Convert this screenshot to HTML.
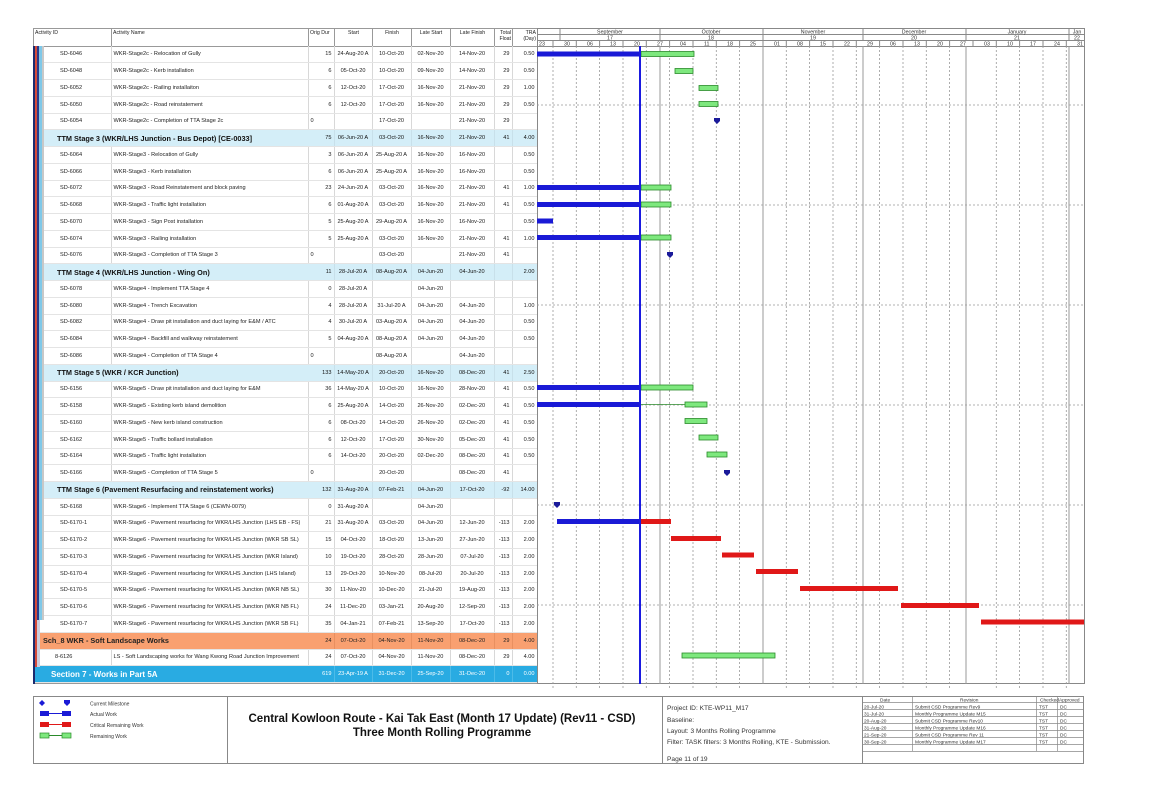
<!DOCTYPE html>
<html><head><meta charset="utf-8"><style>
body{margin:0;width:1149px;height:812px;background:#fff;position:relative;overflow:hidden;font-family:"Liberation Sans",sans-serif}
.a{position:absolute}
table{border-collapse:collapse;table-layout:fixed;font-size:5.6px;color:#222}
#t td{height:16.76px;padding:0 2px;border-right:1px solid #d8d8d8;border-bottom:1px solid #e4e4e4;white-space:nowrap;overflow:hidden;box-sizing:border-box}
#t td.r{text-align:right}
#t td.c{text-align:center}
#t tr.s td{background:#d4eef8;font-weight:bold;font-size:7.3px;color:#111;border-right-color:#d4eef8}
#t tr.s td.r,#t tr.s td.c{font-weight:normal;font-size:5.6px;border-right:1px solid #c8e0ea}
#t tr.o td{background:#f9a070;font-weight:bold;font-size:7.3px;border-right-color:#f9a070}
#t tr.o td.r,#t tr.o td.c{font-weight:normal;font-size:5.6px;border-right:1px solid #e89060}
#t tr.b td{background:#29abe2;color:#fff;font-weight:bold;font-size:8px;border-right-color:#29abe2}
#t tr.b td.r,#t tr.b td.c{font-weight:normal;font-size:5.6px;border-right:1px solid #4cbbe8}
.id{padding-left:27px!important}
#h td{height:18px;border:1px solid #999;font-size:5.2px;vertical-align:top;padding:1px;box-sizing:border-box}
.st{position:absolute;z-index:2}
</style></head><body>
<!-- header of table -->
<table id="h" class="a" style="left:33px;top:28px;width:504px">
<colgroup><col style="width:78px"><col style="width:197px"><col style="width:26px"><col style="width:38px"><col style="width:39px"><col style="width:39px"><col style="width:44px"><col style="width:18px"><col style="width:25px"></colgroup>
<tr><td>Activity ID</td><td>Activity Name</td><td>Orig Dur</td><td style="text-align:center">Start</td><td style="text-align:center">Finish</td><td style="text-align:center">Late Start</td><td style="text-align:center">Late Finish</td><td style="text-align:right">Total Float</td><td style="text-align:right">TRA (Day)</td></tr>
</table>

<table id="t" class="a" style="left:33px;top:46px;width:504px">
<colgroup><col style="width:78px"><col style="width:197px"><col style="width:26px"><col style="width:38px"><col style="width:39px"><col style="width:39px"><col style="width:44px"><col style="width:18px"><col style="width:25px"></colgroup>
<tr><td class="id">SD-6046</td><td>WKR-Stage2c - Relocation of Gully</td><td class="r">15</td><td class="c">24-Aug-20 A</td><td class="c">10-Oct-20</td><td class="c">02-Nov-20</td><td class="c">14-Nov-20</td><td class="r">29</td><td class="r">0.50</td></tr>
<tr><td class="id">SD-6048</td><td>WKR-Stage2c - Kerb installation</td><td class="r">6</td><td class="c">05-Oct-20</td><td class="c">10-Oct-20</td><td class="c">09-Nov-20</td><td class="c">14-Nov-20</td><td class="r">29</td><td class="r">0.50</td></tr>
<tr><td class="id">SD-6052</td><td>WKR-Stage2c - Railing installaiton</td><td class="r">6</td><td class="c">12-Oct-20</td><td class="c">17-Oct-20</td><td class="c">16-Nov-20</td><td class="c">21-Nov-20</td><td class="r">29</td><td class="r">1.00</td></tr>
<tr><td class="id">SD-6050</td><td>WKR-Stage2c - Road reinstatement</td><td class="r">6</td><td class="c">12-Oct-20</td><td class="c">17-Oct-20</td><td class="c">16-Nov-20</td><td class="c">21-Nov-20</td><td class="r">29</td><td class="r">0.50</td></tr>
<tr><td class="id">SD-6054</td><td>WKR-Stage2c - Completion of TTA Stage 2c</td><td>0</td><td class="c"></td><td class="c">17-Oct-20</td><td class="c"></td><td class="c">21-Nov-20</td><td class="r">29</td><td class="r"></td></tr>
<tr class="s"><td colspan="2" style="padding-left:24px">TTM Stage 3 (WKR/LHS Junction - Bus Depot) [CE-0033]</td><td class="r">75</td><td class="c">06-Jun-20 A</td><td class="c">03-Oct-20</td><td class="c">16-Nov-20</td><td class="c">21-Nov-20</td><td class="r">41</td><td class="r">4.00</td></tr>
<tr><td class="id">SD-6064</td><td>WKR-Stage3 - Relocation of Gully</td><td class="r">3</td><td class="c">06-Jun-20 A</td><td class="c">25-Aug-20 A</td><td class="c">16-Nov-20</td><td class="c">16-Nov-20</td><td class="r"></td><td class="r">0.50</td></tr>
<tr><td class="id">SD-6066</td><td>WKR-Stage3 - Kerb installation</td><td class="r">6</td><td class="c">06-Jun-20 A</td><td class="c">25-Aug-20 A</td><td class="c">16-Nov-20</td><td class="c">16-Nov-20</td><td class="r"></td><td class="r">0.50</td></tr>
<tr><td class="id">SD-6072</td><td>WKR-Stage3 - Road Reinstatement and block paving</td><td class="r">23</td><td class="c">24-Jun-20 A</td><td class="c">03-Oct-20</td><td class="c">16-Nov-20</td><td class="c">21-Nov-20</td><td class="r">41</td><td class="r">1.00</td></tr>
<tr><td class="id">SD-6068</td><td>WKR-Stage3 - Traffic light installation</td><td class="r">6</td><td class="c">01-Aug-20 A</td><td class="c">03-Oct-20</td><td class="c">16-Nov-20</td><td class="c">21-Nov-20</td><td class="r">41</td><td class="r">0.50</td></tr>
<tr><td class="id">SD-6070</td><td>WKR-Stage3 - Sign Post installation</td><td class="r">5</td><td class="c">25-Aug-20 A</td><td class="c">29-Aug-20 A</td><td class="c">16-Nov-20</td><td class="c">16-Nov-20</td><td class="r"></td><td class="r">0.50</td></tr>
<tr><td class="id">SD-6074</td><td>WKR-Stage3 - Railing installation</td><td class="r">5</td><td class="c">25-Aug-20 A</td><td class="c">03-Oct-20</td><td class="c">16-Nov-20</td><td class="c">21-Nov-20</td><td class="r">41</td><td class="r">1.00</td></tr>
<tr><td class="id">SD-6076</td><td>WKR-Stage3 - Completion of TTA Stage 3</td><td>0</td><td class="c"></td><td class="c">03-Oct-20</td><td class="c"></td><td class="c">21-Nov-20</td><td class="r">41</td><td class="r"></td></tr>
<tr class="s"><td colspan="2" style="padding-left:24px">TTM Stage 4 (WKR/LHS Junction - Wing On)</td><td class="r">11</td><td class="c">28-Jul-20 A</td><td class="c">08-Aug-20 A</td><td class="c">04-Jun-20</td><td class="c">04-Jun-20</td><td class="r"></td><td class="r">2.00</td></tr>
<tr><td class="id">SD-6078</td><td>WKR-Stage4 - Implement TTA Stage 4</td><td class="r">0</td><td class="c">28-Jul-20 A</td><td class="c"></td><td class="c">04-Jun-20</td><td class="c"></td><td class="r"></td><td class="r"></td></tr>
<tr><td class="id">SD-6080</td><td>WKR-Stage4 - Trench Excavation</td><td class="r">4</td><td class="c">28-Jul-20 A</td><td class="c">31-Jul-20 A</td><td class="c">04-Jun-20</td><td class="c">04-Jun-20</td><td class="r"></td><td class="r">1.00</td></tr>
<tr><td class="id">SD-6082</td><td>WKR-Stage4 - Draw pit installation and duct laying for E&amp;M / ATC</td><td class="r">4</td><td class="c">30-Jul-20 A</td><td class="c">03-Aug-20 A</td><td class="c">04-Jun-20</td><td class="c">04-Jun-20</td><td class="r"></td><td class="r">0.50</td></tr>
<tr><td class="id">SD-6084</td><td>WKR-Stage4 - Backfill and walkway reinstatement</td><td class="r">5</td><td class="c">04-Aug-20 A</td><td class="c">08-Aug-20 A</td><td class="c">04-Jun-20</td><td class="c">04-Jun-20</td><td class="r"></td><td class="r">0.50</td></tr>
<tr><td class="id">SD-6086</td><td>WKR-Stage4 - Completion of TTA Stage 4</td><td>0</td><td class="c"></td><td class="c">08-Aug-20 A</td><td class="c"></td><td class="c">04-Jun-20</td><td class="r"></td><td class="r"></td></tr>
<tr class="s"><td colspan="2" style="padding-left:24px">TTM Stage 5 (WKR / KCR Junction)</td><td class="r">133</td><td class="c">14-May-20 A</td><td class="c">20-Oct-20</td><td class="c">16-Nov-20</td><td class="c">08-Dec-20</td><td class="r">41</td><td class="r">2.50</td></tr>
<tr><td class="id">SD-6156</td><td>WKR-Stage5 - Draw pit installation and duct laying for E&amp;M</td><td class="r">36</td><td class="c">14-May-20 A</td><td class="c">10-Oct-20</td><td class="c">16-Nov-20</td><td class="c">28-Nov-20</td><td class="r">41</td><td class="r">0.50</td></tr>
<tr><td class="id">SD-6158</td><td>WKR-Stage5 - Existing kerb island demolition</td><td class="r">6</td><td class="c">25-Aug-20 A</td><td class="c">14-Oct-20</td><td class="c">26-Nov-20</td><td class="c">02-Dec-20</td><td class="r">41</td><td class="r">0.50</td></tr>
<tr><td class="id">SD-6160</td><td>WKR-Stage5 - New kerb island construction</td><td class="r">6</td><td class="c">08-Oct-20</td><td class="c">14-Oct-20</td><td class="c">26-Nov-20</td><td class="c">02-Dec-20</td><td class="r">41</td><td class="r">0.50</td></tr>
<tr><td class="id">SD-6162</td><td>WKR-Stage5 - Traffic bollard installation</td><td class="r">6</td><td class="c">12-Oct-20</td><td class="c">17-Oct-20</td><td class="c">30-Nov-20</td><td class="c">05-Dec-20</td><td class="r">41</td><td class="r">0.50</td></tr>
<tr><td class="id">SD-6164</td><td>WKR-Stage5 - Traffic light installation</td><td class="r">6</td><td class="c">14-Oct-20</td><td class="c">20-Oct-20</td><td class="c">02-Dec-20</td><td class="c">08-Dec-20</td><td class="r">41</td><td class="r">0.50</td></tr>
<tr><td class="id">SD-6166</td><td>WKR-Stage5 - Completion of TTA Stage 5</td><td>0</td><td class="c"></td><td class="c">20-Oct-20</td><td class="c"></td><td class="c">08-Dec-20</td><td class="r">41</td><td class="r"></td></tr>
<tr class="s"><td colspan="2" style="padding-left:24px">TTM Stage 6 (Pavement Resurfacing and reinstatement works)</td><td class="r">132</td><td class="c">31-Aug-20 A</td><td class="c">07-Feb-21</td><td class="c">04-Jun-20</td><td class="c">17-Oct-20</td><td class="r">-92</td><td class="r">14.00</td></tr>
<tr><td class="id">SD-6168</td><td>WKR-Stage6 - Implement TTA Stage 6 (CEWN-0079)</td><td class="r">0</td><td class="c">31-Aug-20 A</td><td class="c"></td><td class="c">04-Jun-20</td><td class="c"></td><td class="r"></td><td class="r"></td></tr>
<tr><td class="id">SD-6170-1</td><td>WKR-Stage6 - Pavement resurfacing for WKR/LHS Junction (LHS EB - FS)</td><td class="r">21</td><td class="c">31-Aug-20 A</td><td class="c">03-Oct-20</td><td class="c">04-Jun-20</td><td class="c">12-Jun-20</td><td class="r">-113</td><td class="r">2.00</td></tr>
<tr><td class="id">SD-6170-2</td><td>WKR-Stage6 - Pavement resurfacing for WKR/LHS Junction (WKR SB SL)</td><td class="r">15</td><td class="c">04-Oct-20</td><td class="c">18-Oct-20</td><td class="c">13-Jun-20</td><td class="c">27-Jun-20</td><td class="r">-113</td><td class="r">2.00</td></tr>
<tr><td class="id">SD-6170-3</td><td>WKR-Stage6 - Pavement resurfacing for WKR/LHS Junction (WKR Island)</td><td class="r">10</td><td class="c">19-Oct-20</td><td class="c">28-Oct-20</td><td class="c">28-Jun-20</td><td class="c">07-Jul-20</td><td class="r">-113</td><td class="r">2.00</td></tr>
<tr><td class="id">SD-6170-4</td><td>WKR-Stage6 - Pavement resurfacing for WKR/LHS Junction (LHS Island)</td><td class="r">13</td><td class="c">29-Oct-20</td><td class="c">10-Nov-20</td><td class="c">08-Jul-20</td><td class="c">20-Jul-20</td><td class="r">-113</td><td class="r">2.00</td></tr>
<tr><td class="id">SD-6170-5</td><td>WKR-Stage6 - Pavement resurfacing for WKR/LHS Junction (WKR NB SL)</td><td class="r">30</td><td class="c">11-Nov-20</td><td class="c">10-Dec-20</td><td class="c">21-Jul-20</td><td class="c">19-Aug-20</td><td class="r">-113</td><td class="r">2.00</td></tr>
<tr><td class="id">SD-6170-6</td><td>WKR-Stage6 - Pavement resurfacing for WKR/LHS Junction (WKR NB FL)</td><td class="r">24</td><td class="c">11-Dec-20</td><td class="c">03-Jan-21</td><td class="c">20-Aug-20</td><td class="c">12-Sep-20</td><td class="r">-113</td><td class="r">2.00</td></tr>
<tr><td class="id">SD-6170-7</td><td>WKR-Stage6 - Pavement resurfacing for WKR/LHS Junction (WKR SB FL)</td><td class="r">35</td><td class="c">04-Jan-21</td><td class="c">07-Feb-21</td><td class="c">13-Sep-20</td><td class="c">17-Oct-20</td><td class="r">-113</td><td class="r">2.00</td></tr>
<tr class="o"><td colspan="2" style="padding-left:10px">Sch_8 WKR - Soft Landscape Works</td><td class="r">24</td><td class="c">07-Oct-20</td><td class="c">04-Nov-20</td><td class="c">11-Nov-20</td><td class="c">08-Dec-20</td><td class="r">29</td><td class="r">4.00</td></tr>
<tr><td class="id" style="padding-left:22px!important">8-6126</td><td>LS - Soft Landscaping works for Wang Kwong Road Junction Improvement</td><td class="r">24</td><td class="c">07-Oct-20</td><td class="c">04-Nov-20</td><td class="c">11-Nov-20</td><td class="c">08-Dec-20</td><td class="r">29</td><td class="r">4.00</td></tr>
<tr class="b"><td colspan="2" style="padding-left:18px">Section 7 - Works in Part 5A</td><td class="r">619</td><td class="c">23-Apr-19 A</td><td class="c">31-Dec-20</td><td class="c">25-Sep-20</td><td class="c">31-Dec-20</td><td class="r">0</td><td class="r">0.00</td></tr>
</table>
<!-- stripes on top -->
<div class="st" style="left:33px;top:46px;width:2px;height:638px;background:#1c2a6e"></div>
<div class="st" style="left:35px;top:46px;width:2px;height:621px;background:#d64a3a"></div>
<div class="st" style="left:37px;top:46px;width:2px;height:574px;background:#2a3a8a"></div>
<div class="st" style="left:39px;top:46px;width:3px;height:574px;background:#7fc8e8"></div>
<div class="st" style="left:42px;top:46px;width:2px;height:574px;background:#c8c8c8"></div>
<div class="st" style="left:37px;top:620px;width:3px;height:47px;background:#ccd"></div>
<div class="a" style="left:33px;top:683px;width:504px;height:1px;background:#999"></div>

<svg class="a" style="left:0;top:0" width="1149" height="812">
<g font-family="Liberation Sans,sans-serif" font-size="5.3" fill="#333">
<rect x="537.5" y="28.5" width="547" height="655" fill="none" stroke="#888"/>
<line x1="537" y1="34.5" x2="1084" y2="34.5" stroke="#888"/>
<line x1="537" y1="40.5" x2="1084" y2="40.5" stroke="#888"/>
<line x1="537" y1="46.5" x2="1084" y2="46.5" stroke="#888"/>
<g stroke="#888">
<line x1="560" y1="28" x2="560" y2="40"/><line x1="660" y1="28" x2="660" y2="40"/><line x1="763" y1="28" x2="763" y2="40"/><line x1="863" y1="28" x2="863" y2="40"/><line x1="966" y1="28" x2="966" y2="40"/><line x1="1069" y1="28" x2="1069" y2="40"/>
</g>
<g text-anchor="middle"><text x="610" y="33.5">September</text><text x="711" y="33.5">October</text><text x="813" y="33.5">November</text><text x="914" y="33.5">December</text><text x="1017" y="33.5">January</text><text x="1077" y="33.5">Jan</text>
<text x="610" y="39.5">17</text><text x="711" y="39.5">18</text><text x="813" y="39.5">19</text><text x="914" y="39.5">20</text><text x="1017" y="39.5">21</text><text x="1077" y="39.5">22</text></g>
<g>
<text x="539" y="45.5">23</text><text x="564" y="45.5">30</text><text x="587" y="45.5">06</text><text x="610" y="45.5">13</text><text x="634" y="45.5">20</text><text x="657" y="45.5">27</text><text x="680" y="45.5">04</text><text x="704" y="45.5">11</text><text x="727" y="45.5">18</text><text x="750" y="45.5">25</text><text x="774" y="45.5">01</text><text x="797" y="45.5">08</text><text x="820" y="45.5">15</text><text x="844" y="45.5">22</text><text x="867" y="45.5">29</text><text x="890" y="45.5">06</text><text x="914" y="45.5">13</text><text x="937" y="45.5">20</text><text x="960" y="45.5">27</text><text x="984" y="45.5">03</text><text x="1007" y="45.5">10</text><text x="1030" y="45.5">17</text><text x="1054" y="45.5">24</text><text x="1077" y="45.5">31</text>
</g>
<g stroke="#888">
<line x1="553" y1="40" x2="553" y2="46"/><line x1="576.3" y1="40" x2="576.3" y2="46"/><line x1="599.6" y1="40" x2="599.6" y2="46"/><line x1="623" y1="40" x2="623" y2="46"/><line x1="646.3" y1="40" x2="646.3" y2="46"/><line x1="669.6" y1="40" x2="669.6" y2="46"/><line x1="693" y1="40" x2="693" y2="46"/><line x1="716.3" y1="40" x2="716.3" y2="46"/><line x1="739.6" y1="40" x2="739.6" y2="46"/><line x1="763" y1="40" x2="763" y2="46"/><line x1="786.3" y1="40" x2="786.3" y2="46"/><line x1="809.6" y1="40" x2="809.6" y2="46"/><line x1="833" y1="40" x2="833" y2="46"/><line x1="856.3" y1="40" x2="856.3" y2="46"/><line x1="879.6" y1="40" x2="879.6" y2="46"/><line x1="903" y1="40" x2="903" y2="46"/><line x1="926.3" y1="40" x2="926.3" y2="46"/><line x1="949.6" y1="40" x2="949.6" y2="46"/><line x1="973" y1="40" x2="973" y2="46"/><line x1="996.3" y1="40" x2="996.3" y2="46"/><line x1="1019.6" y1="40" x2="1019.6" y2="46"/><line x1="1043" y1="40" x2="1043" y2="46"/><line x1="1066.3" y1="40" x2="1066.3" y2="46"/>
</g>
<g stroke="#999" stroke-dasharray="2,2" stroke-width="0.8">
<line x1="553" y1="46" x2="553" y2="690"/><line x1="576.3" y1="46" x2="576.3" y2="690"/><line x1="599.6" y1="46" x2="599.6" y2="690"/><line x1="623" y1="46" x2="623" y2="690"/><line x1="646.3" y1="46" x2="646.3" y2="690"/><line x1="669.6" y1="46" x2="669.6" y2="690"/><line x1="693" y1="46" x2="693" y2="690"/><line x1="716.3" y1="46" x2="716.3" y2="690"/><line x1="739.6" y1="46" x2="739.6" y2="690"/><line x1="786.3" y1="46" x2="786.3" y2="690"/><line x1="809.6" y1="46" x2="809.6" y2="690"/><line x1="833" y1="46" x2="833" y2="690"/><line x1="856.3" y1="46" x2="856.3" y2="690"/><line x1="879.6" y1="46" x2="879.6" y2="690"/><line x1="903" y1="46" x2="903" y2="690"/><line x1="926.3" y1="46" x2="926.3" y2="690"/><line x1="949.6" y1="46" x2="949.6" y2="690"/><line x1="996.3" y1="46" x2="996.3" y2="690"/><line x1="1019.6" y1="46" x2="1019.6" y2="690"/><line x1="1043" y1="46" x2="1043" y2="690"/><line x1="1066.3" y1="46" x2="1066.3" y2="690"/>
<line x1="537" y1="105" x2="1084" y2="105"/><line x1="537" y1="205" x2="1084" y2="205"/><line x1="537" y1="305" x2="1084" y2="305"/><line x1="537" y1="405" x2="1084" y2="405"/><line x1="537" y1="505" x2="1084" y2="505"/><line x1="537" y1="605" x2="1084" y2="605"/>
</g>
<g stroke="#999" stroke-width="1">
<line x1="660" y1="46" x2="660" y2="684"/><line x1="763" y1="46" x2="763" y2="684"/><line x1="863" y1="46" x2="863" y2="684"/><line x1="966" y1="46" x2="966" y2="684"/><line x1="1069" y1="46" x2="1069" y2="684"/>
</g>
<g stroke-width="0.8">
<rect x="537" y="51.5" width="103" height="5" fill="#1a1ad6"/><rect x="641" y="51.5" width="53" height="5" fill="#7ee87e" stroke="#2a8a2a"/>
<rect x="675" y="68.5" width="18" height="5" fill="#7ee87e" stroke="#2a8a2a"/>
<rect x="699" y="85.5" width="19" height="5" fill="#7ee87e" stroke="#2a8a2a"/>
<rect x="699" y="101.5" width="19" height="5" fill="#7ee87e" stroke="#2a8a2a"/>
<rect x="537" y="185" width="103" height="5" fill="#1a1ad6"/><rect x="641" y="185" width="30" height="5" fill="#7ee87e" stroke="#2a8a2a"/>
<rect x="537" y="202" width="103" height="5" fill="#1a1ad6"/><rect x="641" y="202" width="30" height="5" fill="#7ee87e" stroke="#2a8a2a"/>
<rect x="537" y="218.5" width="16" height="5" fill="#1a1ad6"/>
<rect x="537" y="235" width="103" height="5" fill="#1a1ad6"/><rect x="641" y="235" width="30" height="5" fill="#7ee87e" stroke="#2a8a2a"/>
<rect x="537" y="385" width="103" height="5" fill="#1a1ad6"/><rect x="641" y="385" width="52" height="5" fill="#7ee87e" stroke="#2a8a2a"/>
<rect x="537" y="402" width="103" height="5" fill="#1a1ad6"/><line x1="640" y1="404.5" x2="685" y2="404.5" stroke="#2a8a2a"/><rect x="685" y="402" width="22" height="5" fill="#7ee87e" stroke="#2a8a2a"/>
<rect x="685" y="418.5" width="22" height="5" fill="#7ee87e" stroke="#2a8a2a"/>
<rect x="699" y="435" width="19" height="5" fill="#7ee87e" stroke="#2a8a2a"/>
<rect x="707" y="452" width="20" height="5" fill="#7ee87e" stroke="#2a8a2a"/>
<rect x="557" y="519" width="83" height="5" fill="#1a1ad6"/><rect x="640" y="519" width="31" height="5" fill="#e01818"/>
<rect x="671" y="536" width="50" height="5" fill="#e01818"/>
<rect x="722" y="552.5" width="32" height="5" fill="#e01818"/>
<rect x="756" y="569" width="42" height="5" fill="#e01818"/>
<rect x="800" y="586" width="98" height="5" fill="#e01818"/>
<rect x="901" y="603" width="78" height="5" fill="#e01818"/>
<rect x="981" y="619.5" width="103" height="5" fill="#e01818"/>
<rect x="682" y="653" width="93" height="5" fill="#7ee87e" stroke="#2a8a2a"/>
</g>
<g fill="#1a1a9a">
<path d="M714,118 h6 v3 l-3,3 l-3,-3z"/><path d="M667,252 h6 v3 l-3,3 l-3,-3z"/><path d="M724,470 h6 v3 l-3,3 l-3,-3z"/><path d="M554,502 h6 v3 l-3,3 l-3,-3z"/>
</g>
<rect x="639" y="46" width="2" height="638" fill="#1a1ae0"/>
<rect x="33.5" y="696.5" width="1050" height="67" fill="none" stroke="#888"/>
<line x1="227.5" y1="696" x2="227.5" y2="764" stroke="#888"/>
<line x1="662.5" y1="696" x2="662.5" y2="764" stroke="#888"/>
<line x1="862.5" y1="696" x2="862.5" y2="764" stroke="#888"/>
<path d="M42,700 l3,3 l-3,3 l-3,-3z" fill="#1a1ad6"/><path d="M64,700 h6 v3 l-3,3 l-3,-3z" fill="#1a1ad6"/>
<text x="90" y="705.5" font-size="5">Current Milestone</text>
<rect x="40" y="711" width="9" height="5" fill="#1a1ad6"/><line x1="49" y1="713.5" x2="62" y2="713.5" stroke="#1a1ad6"/><rect x="62" y="711" width="9" height="5" fill="#1a1ad6"/><text x="90" y="716" font-size="5">Actual Work</text>
<rect x="40" y="722" width="9" height="5" fill="#e01818"/><line x1="49" y1="724.5" x2="62" y2="724.5" stroke="#e01818"/><rect x="62" y="722" width="9" height="5" fill="#e01818"/><text x="90" y="727" font-size="5">Critical Remaining Work</text>
<rect x="40" y="733" width="9" height="5" fill="#7ee87e" stroke="#2a8a2a" stroke-width="0.7"/><line x1="49" y1="735.5" x2="62" y2="735.5" stroke="#2a8a2a"/><rect x="62" y="733" width="9" height="5" fill="#7ee87e" stroke="#2a8a2a" stroke-width="0.7"/><text x="90" y="738" font-size="5">Remaining Work</text>
<g font-size="11.5" font-weight="bold" fill="#111" text-anchor="middle"><text x="442" y="722">Central Kowloon Route - Kai Tak East (Month 17 Update) (Rev11 - CSD)</text><text x="442" y="736">Three Month Rolling Programme</text></g>
<g font-size="6.6" fill="#333"><text x="667" y="710">Project ID: KTE-WP11_M17</text><text x="667" y="722">Baseline:</text><text x="667" y="733">Layout: 3 Months Rolling Programme</text><text x="667" y="744">Filter: TASK filters: 3 Months Rolling, KTE - Submission.</text><text x="667" y="761">Page 11 of 19</text></g>
<g stroke="#888" stroke-width="0.7">
<line x1="862" y1="702.5" x2="1084" y2="702.5"/><line x1="862" y1="709.5" x2="1084" y2="709.5"/><line x1="862" y1="716.5" x2="1084" y2="716.5"/><line x1="862" y1="723.5" x2="1084" y2="723.5"/><line x1="862" y1="730.5" x2="1084" y2="730.5"/><line x1="862" y1="737.5" x2="1084" y2="737.5"/><line x1="862" y1="744.5" x2="1084" y2="744.5"/><line x1="862" y1="751.5" x2="1084" y2="751.5"/>
<line x1="912.5" y1="696" x2="912.5" y2="751"/><line x1="1036.5" y1="696" x2="1036.5" y2="751"/><line x1="1057.5" y1="696" x2="1057.5" y2="751"/>
</g>
<g font-size="4.8" fill="#333">
<text x="880" y="701.5">Date</text><text x="960" y="701.5">Revision</text><text x="1040" y="701.5">Checked</text><text x="1059" y="701.5">Approved</text>
<text x="864" y="708.5">20-Jul-20</text><text x="915" y="708.5">Submit CSD Programme Rev9</text><text x="1039" y="708.5">TST</text><text x="1060" y="708.5">DC</text>
<text x="864" y="715.5">31-Jul-20</text><text x="915" y="715.5">Monthly Programme Update M15</text><text x="1039" y="715.5">TST</text><text x="1060" y="715.5">DC</text>
<text x="864" y="722.5">20-Aug-20</text><text x="915" y="722.5">Submit CSD Programme Rev10</text><text x="1039" y="722.5">TST</text><text x="1060" y="722.5">DC</text>
<text x="864" y="729.5">31-Aug-20</text><text x="915" y="729.5">Monthly Programme Update M16</text><text x="1039" y="729.5">TST</text><text x="1060" y="729.5">DC</text>
<text x="864" y="736.5">21-Sep-20</text><text x="915" y="736.5">Submit CSD Programme Rev 11</text><text x="1039" y="736.5">TST</text><text x="1060" y="736.5">DC</text>
<text x="864" y="743.5">30-Sep-20</text><text x="915" y="743.5">Monthly Programme Update M17</text><text x="1039" y="743.5">TST</text><text x="1060" y="743.5">DC</text>
</g>
</g>
</svg>
</body></html>
